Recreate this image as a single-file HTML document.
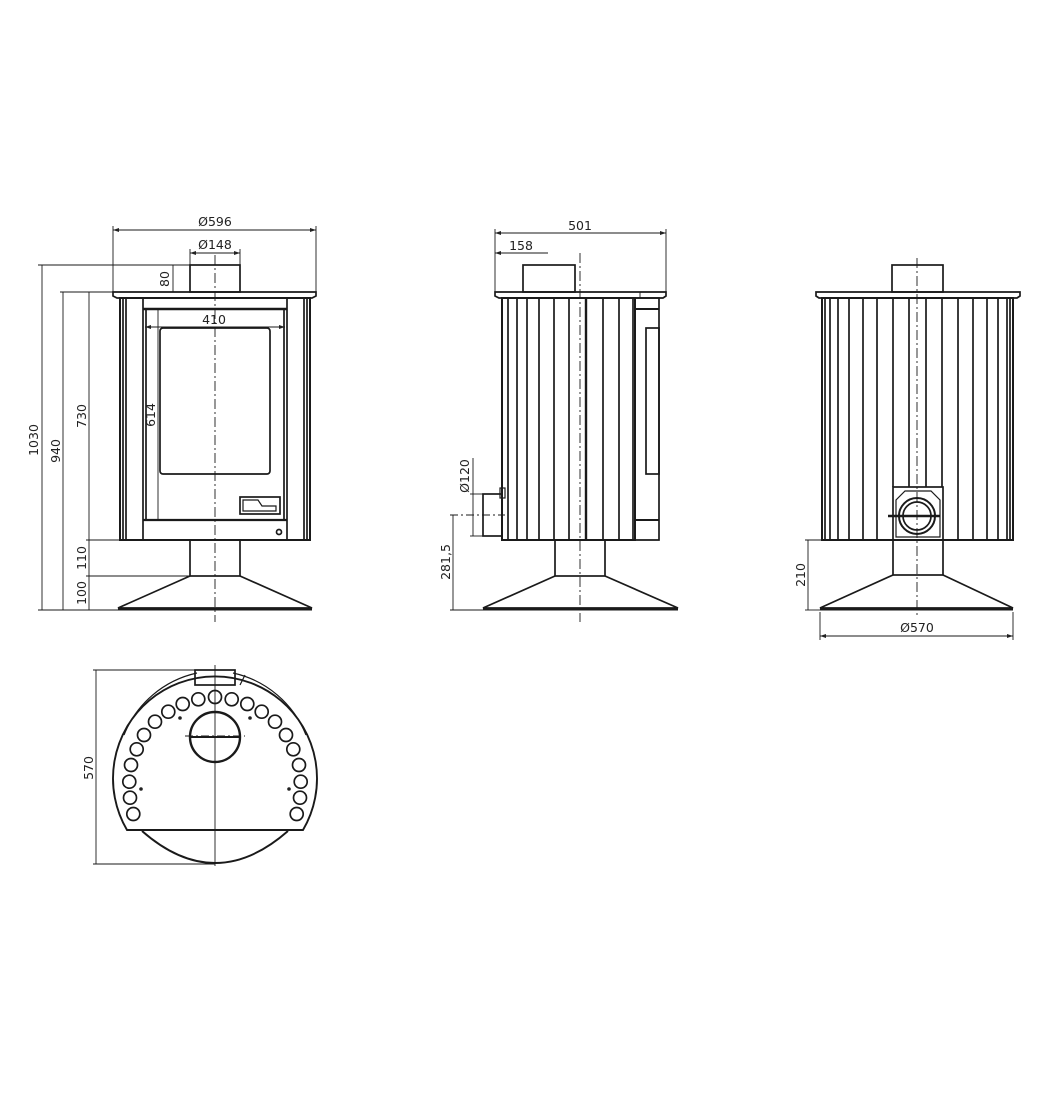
<!DOCTYPE html>
<html><head><meta charset="utf-8"><style>
html,body{margin:0;padding:0;background:#fff;}
svg{display:block}
text{font-family:"DejaVu Sans","Liberation Sans",sans-serif;font-size:12.5px;fill:#222}
</style></head><body>
<svg width="1040" height="1120" viewBox="0 0 1040 1120" xmlns="http://www.w3.org/2000/svg">
<g fill="none" stroke="#1a1a1a" stroke-width="1.7">
<!-- ============ FRONT VIEW ============ -->
<line x1="113" y1="230" x2="316" y2="230" stroke-width="0.9"/>
<line x1="113" y1="226" x2="113" y2="292" stroke-width="0.9"/>
<line x1="316" y1="226" x2="316" y2="292" stroke-width="0.9"/>
<line x1="190" y1="253" x2="240" y2="253" stroke-width="0.9"/>
<line x1="190" y1="249" x2="190" y2="265" stroke-width="0.9"/>
<line x1="240" y1="249" x2="240" y2="265" stroke-width="0.9"/>
<line x1="38" y1="265" x2="190" y2="265" stroke-width="0.9"/>
<line x1="60" y1="292" x2="113" y2="292" stroke-width="0.9"/>
<line x1="173" y1="265" x2="173" y2="292" stroke-width="0.9"/>
<line x1="42" y1="265" x2="42" y2="610" stroke-width="0.9"/>
<line x1="63" y1="292" x2="63" y2="610" stroke-width="0.9"/>
<line x1="89" y1="292" x2="89" y2="610" stroke-width="0.9"/>
<line x1="86" y1="540" x2="120" y2="540" stroke-width="0.9"/>
<line x1="86" y1="576" x2="190" y2="576" stroke-width="0.9"/>
<line x1="38" y1="610" x2="118" y2="610" stroke-width="0.9"/>
<line x1="145" y1="327" x2="285" y2="327" stroke-width="0.9"/>
<line x1="158" y1="310" x2="158" y2="520" stroke-width="0.9"/>
<rect x="190" y="265" width="50" height="27"/>
<path d="M113 292 H316 V296 L312 298 H117 L113 296 Z"/>
<rect x="120" y="298" width="190" height="242" stroke-width="2"/>
<line x1="123" y1="298" x2="123" y2="540"/>
<line x1="126" y1="298" x2="126" y2="540"/>
<line x1="307" y1="298" x2="307" y2="540"/>
<line x1="304" y1="298" x2="304" y2="540"/>
<line x1="143" y1="298" x2="143" y2="540"/>
<line x1="146" y1="310" x2="146" y2="520"/>
<line x1="287" y1="298" x2="287" y2="540"/>
<line x1="284" y1="310" x2="284" y2="520"/>
<line x1="143" y1="309" x2="287" y2="309" stroke-width="2.4"/>
<line x1="143" y1="520" x2="287" y2="520" stroke-width="2.2"/>
<rect x="160" y="328" width="110" height="146" rx="3"/>
<rect x="240" y="497" width="40" height="17"/>
<path d="M243 500 H258 L262 506 H276 V511 H243 Z" stroke-width="1.2"/>
<circle cx="279" cy="532" r="2.5"/>
<rect x="190" y="540" width="50" height="36"/>
<path d="M190 576 L118 608 H312 L240 576" />
<line x1="118" y1="609" x2="312" y2="609" stroke-width="3"/>
<line x1="215" y1="255" x2="215" y2="622" stroke-width="0.9" stroke-dasharray="10 3 2 3"/>

<!-- ============ SIDE VIEW ============ -->
<line x1="495" y1="233" x2="666" y2="233" stroke-width="0.9"/>
<line x1="495" y1="229" x2="495" y2="292" stroke-width="0.9"/>
<line x1="666" y1="229" x2="666" y2="292" stroke-width="0.9"/>
<line x1="495" y1="253" x2="548" y2="253" stroke-width="0.9"/>
<rect x="523" y="265" width="52" height="27"/>
<path d="M495 292 H666 V296 L663 298 H499 L495 296 Z"/>
<line x1="640" y1="292" x2="640" y2="298" stroke-width="0.9"/>
<rect x="502" y="298" width="133" height="242" stroke-width="2"/>
<line x1="508" y1="298" x2="508" y2="540"/>
<line x1="517" y1="298" x2="517" y2="540"/>
<line x1="527" y1="298" x2="527" y2="540"/>
<line x1="539" y1="298" x2="539" y2="540"/>
<line x1="554" y1="298" x2="554" y2="540"/>
<line x1="569" y1="298" x2="569" y2="540"/>
<line x1="586" y1="298" x2="586" y2="540" stroke-width="2.4"/>
<line x1="603" y1="298" x2="603" y2="540"/>
<line x1="619" y1="298" x2="619" y2="540"/>
<line x1="633" y1="298" x2="633" y2="540"/>
<path d="M635 298 H659 V540 H635"/>
<line x1="635" y1="309" x2="659" y2="309" stroke-width="2"/>
<line x1="635" y1="520" x2="659" y2="520" stroke-width="2"/>
<rect x="646" y="328" width="13" height="146"/>
<rect x="483" y="494" width="19" height="42"/>
<rect x="500" y="488" width="5" height="10" stroke-width="1.2"/>
<line x1="473" y1="458" x2="473" y2="536" stroke-width="0.9"/>
<line x1="470" y1="494" x2="483" y2="494" stroke-width="0.9"/>
<line x1="470" y1="536" x2="483" y2="536" stroke-width="0.9"/>
<line x1="450" y1="515" x2="505" y2="515" stroke-width="0.9" stroke-dasharray="8 3 2 3"/>
<line x1="453" y1="515" x2="453" y2="610" stroke-width="0.9"/>
<line x1="450" y1="610" x2="483" y2="610" stroke-width="0.9"/>
<rect x="555" y="540" width="50" height="36"/>
<path d="M555 576 L483 608 H678 L605 576"/>
<line x1="483" y1="609" x2="678" y2="609" stroke-width="3"/>
<line x1="580" y1="253" x2="580" y2="622" stroke-width="0.9" stroke-dasharray="10 3 2 3"/>

<!-- ============ BACK VIEW ============ -->
<rect x="892" y="265" width="51" height="27"/>
<path d="M816 292 H1020 V296 L1017 298 H819 L816 296 Z"/>
<rect x="822" y="298" width="191" height="242" stroke-width="2"/>
<line x1="825" y1="298" x2="825" y2="540"/>
<line x1="830" y1="298" x2="830" y2="540"/>
<line x1="838" y1="298" x2="838" y2="540"/>
<line x1="849" y1="298" x2="849" y2="540"/>
<line x1="863" y1="298" x2="863" y2="540"/>
<line x1="877" y1="298" x2="877" y2="540"/>
<line x1="893" y1="298" x2="893" y2="487"/>
<line x1="909" y1="298" x2="909" y2="487"/>
<line x1="926" y1="298" x2="926" y2="487"/>
<line x1="942" y1="298" x2="942" y2="487"/>
<line x1="958" y1="298" x2="958" y2="540"/>
<line x1="973" y1="298" x2="973" y2="540"/>
<line x1="987" y1="298" x2="987" y2="540"/>
<line x1="998" y1="298" x2="998" y2="540"/>
<line x1="1007" y1="298" x2="1007" y2="540"/>
<line x1="1010" y1="298" x2="1010" y2="540"/>
<rect x="893" y="487" width="50" height="53"/>
<path d="M896 537 V500 L905 491 H931 L940 500 V537 Z" stroke-width="1.2"/>
<circle cx="917" cy="516" r="18" stroke-width="2"/>
<circle cx="917" cy="516" r="14"/>
<line x1="888" y1="516" x2="940" y2="516" stroke-width="2.4"/>
<rect x="893" y="540" width="50" height="35"/>
<path d="M893 575 L820 608 H1013 L943 575"/>
<line x1="820" y1="609" x2="1013" y2="609" stroke-width="3"/>
<line x1="917" y1="258" x2="917" y2="615" stroke-width="0.9" stroke-dasharray="10 3 2 3"/>
<line x1="805" y1="540" x2="822" y2="540" stroke-width="0.9"/>
<line x1="808" y1="540" x2="808" y2="610" stroke-width="0.9"/>
<line x1="805" y1="610" x2="820" y2="610" stroke-width="0.9"/>
<line x1="820" y1="612" x2="820" y2="640" stroke-width="0.9"/>
<line x1="1013" y1="612" x2="1013" y2="640" stroke-width="0.9"/>
<line x1="820" y1="636" x2="1013" y2="636" stroke-width="0.9"/>

<!-- ============ TOP VIEW ============ -->
<line x1="93" y1="670" x2="195" y2="670" stroke-width="0.9"/>
<line x1="93" y1="864" x2="215" y2="864" stroke-width="0.9"/>
<line x1="96" y1="670" x2="96" y2="864" stroke-width="0.9"/>
<path d="M127 830 A102 102 0 1 1 303 830 Z" stroke-width="1.9"/>
<path d="M142 831 Q215 895 288 831" stroke-width="1.9"/>
<path d="M124 735 A102 102 0 0 1 197 673" stroke-width="1.2"/>
<path d="M233 673 A102 102 0 0 1 306 735" stroke-width="1.2"/>
<rect x="195" y="670" width="40" height="15"/>
<line x1="245" y1="675" x2="240" y2="685" stroke-width="1.2"/>
<circle cx="215" cy="737" r="25" stroke-width="2.4"/>
<line x1="190" y1="737" x2="240" y2="737" stroke-width="2"/>
<line x1="185" y1="736" x2="245" y2="736" stroke-width="0.9" stroke-dasharray="8 3 2 3"/>
<line x1="215" y1="665" x2="215" y2="866" stroke-width="0.9"/>
<g stroke-width="1.7">
<circle cx="215" cy="697" r="6.5"/>
<circle cx="231.7" cy="699.3" r="6.5"/><circle cx="198.3" cy="699.3" r="6.5"/>
<circle cx="247.3" cy="704" r="6.5"/><circle cx="182.7" cy="704" r="6.5"/>
<circle cx="261.7" cy="711.7" r="6.5"/><circle cx="168.3" cy="711.7" r="6.5"/>
<circle cx="275" cy="721.7" r="6.5"/><circle cx="155" cy="721.7" r="6.5"/>
<circle cx="286" cy="735" r="6.5"/><circle cx="144" cy="735" r="6.5"/>
<circle cx="293.3" cy="749.3" r="6.5"/><circle cx="136.7" cy="749.3" r="6.5"/>
<circle cx="299" cy="765" r="6.5"/><circle cx="131" cy="765" r="6.5"/>
<circle cx="300.7" cy="781.7" r="6.5"/><circle cx="129.3" cy="781.7" r="6.5"/>
<circle cx="300" cy="797.7" r="6.5"/><circle cx="130" cy="797.7" r="6.5"/>
<circle cx="296.7" cy="814" r="6.5"/><circle cx="133.3" cy="814" r="6.5"/>
</g>
</g>
<g fill="#222">
<circle cx="180" cy="718" r="1.8"/><circle cx="250" cy="718" r="1.8"/>
<circle cx="141" cy="789" r="1.8"/><circle cx="289" cy="789" r="1.8"/>
</g>
<g fill="#222" stroke="none">
<path d="M113 230 l6 -2 v4z"/><path d="M316 230 l-6 -2 v4z"/>
<path d="M190 253 l6 -2 v4z"/><path d="M240 253 l-6 -2 v4z"/>
<path d="M145 327 l6 -2 v4z"/><path d="M285 327 l-6 -2 v4z"/>
<path d="M495 233 l6 -2 v4z"/><path d="M666 233 l-6 -2 v4z"/>
<path d="M495 253 l6 -2 v4z"/>
<path d="M820 636 l6 -2 v4z"/><path d="M1013 636 l-6 -2 v4z"/>
</g>
<text x="215" y="226" text-anchor="middle">Ø596</text>
<text x="215" y="249" text-anchor="middle">Ø148</text>
<text x="214" y="324" text-anchor="middle">410</text>
<text x="580" y="230" text-anchor="middle">501</text>
<text x="521" y="250" text-anchor="middle">158</text>
<text x="917" y="632" text-anchor="middle">Ø570</text>
<text transform="translate(38,440) rotate(-90)" text-anchor="middle">1030</text>
<text transform="translate(60,451) rotate(-90)" text-anchor="middle">940</text>
<text transform="translate(86,416) rotate(-90)" text-anchor="middle">730</text>
<text transform="translate(86,558) rotate(-90)" text-anchor="middle">110</text>
<text transform="translate(86,593) rotate(-90)" text-anchor="middle">100</text>
<text transform="translate(169,279) rotate(-90)" text-anchor="middle">80</text>
<text transform="translate(155,415) rotate(-90)" text-anchor="middle">614</text>
<text transform="translate(469,476) rotate(-90)" text-anchor="middle">Ø120</text>
<text transform="translate(450,562) rotate(-90)" text-anchor="middle">281,5</text>
<text transform="translate(805,575) rotate(-90)" text-anchor="middle">210</text>
<text transform="translate(93,768) rotate(-90)" text-anchor="middle">570</text>
</svg>
</body></html>
